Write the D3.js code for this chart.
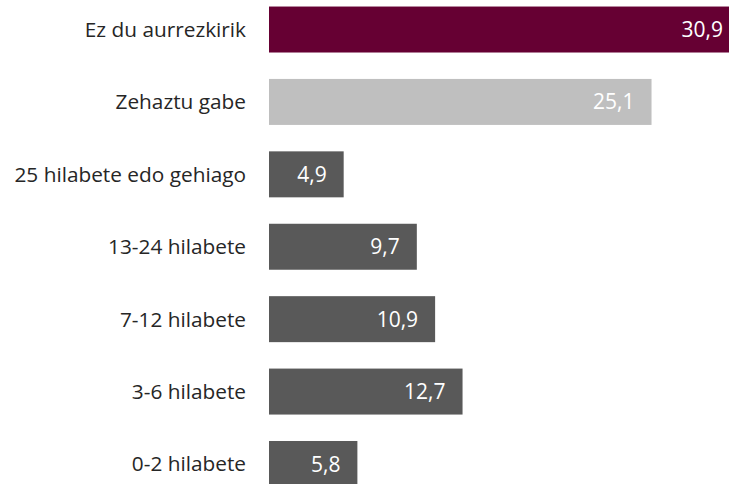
<!DOCTYPE html>
<html>
<head>
<meta charset="utf-8">
<script src="https://cdn.jsdelivr.net/npm/d3@7"></script>
<style>
  body { margin: 0; background: #fff; }
  svg { display: block; font-family: "Open Sans", sans-serif; }
</style>
</head>
<body>
<svg id="chart"></svg>
<script>
// categories top to bottom, values in percent
var categories = ["Ez du aurrezkirik", "Zehaztu gabe", "25 hilabete edo gehiago",
  "13-24 hilabete", "7-12 hilabete", "3-6 hilabete", "0-2 hilabete"];
var values = [30.9, 25.1, 4.9, 9.7, 10.9, 12.7, 5.8];
var colors = ["#660033", "#bfbfbf", "#595959", "#595959", "#595959", "#595959", "#595959"];

var width = 729, height = 484;
var svg = d3.select("#chart").attr("width", width).attr("height", height);

var x0 = 269;
// bars run past the right edge, the top one gets clipped like in the source
var x = d3.scaleLinear().domain([0, 30.9]).range([x0, x0 + 30.9 * 15.24]);
var y = d3.scaleBand().domain(categories).range([-6.5, 500]).paddingInner(0.365).paddingOuter(0.18);

var fmt = function(v) { return d3.format(".1f")(v).replace(".", ","); };

var g = svg.append("g");

g.selectAll("rect")
  .data(values)
  .enter().append("rect")
  .attr("x", x(0))
  .attr("y", function(d, i) { return y(categories[i]); })
  .attr("width", function(d) { return x(d) - x(0); })
  .attr("height", y.bandwidth())
  .attr("fill", function(d, i) { return colors[i]; });

g.selectAll("text.val")
  .data(values)
  .enter().append("text")
  .attr("class", "val")
  .attr("x", function(d) { return x(d) - 17; })
  .attr("y", function(d, i) { return y(categories[i]) + y.bandwidth() / 2; })
  .attr("dy", "0.36em")
  .attr("text-anchor", "end")
  .attr("fill", "#fff")
  .style("font-size", "21px")
  .text(fmt);

g.selectAll("text.cat")
  .data(categories)
  .enter().append("text")
  .attr("class", "cat")
  .attr("x", x0 - 23)
  .attr("y", function(d) { return y(d) + y.bandwidth() / 2; })
  .attr("dy", "0.36em")
  .attr("text-anchor", "end")
  .attr("fill", "#262626")
  .style("font-size", "20.8px")
  .text(function(d) { return d; });
</script>
</body>
</html>
